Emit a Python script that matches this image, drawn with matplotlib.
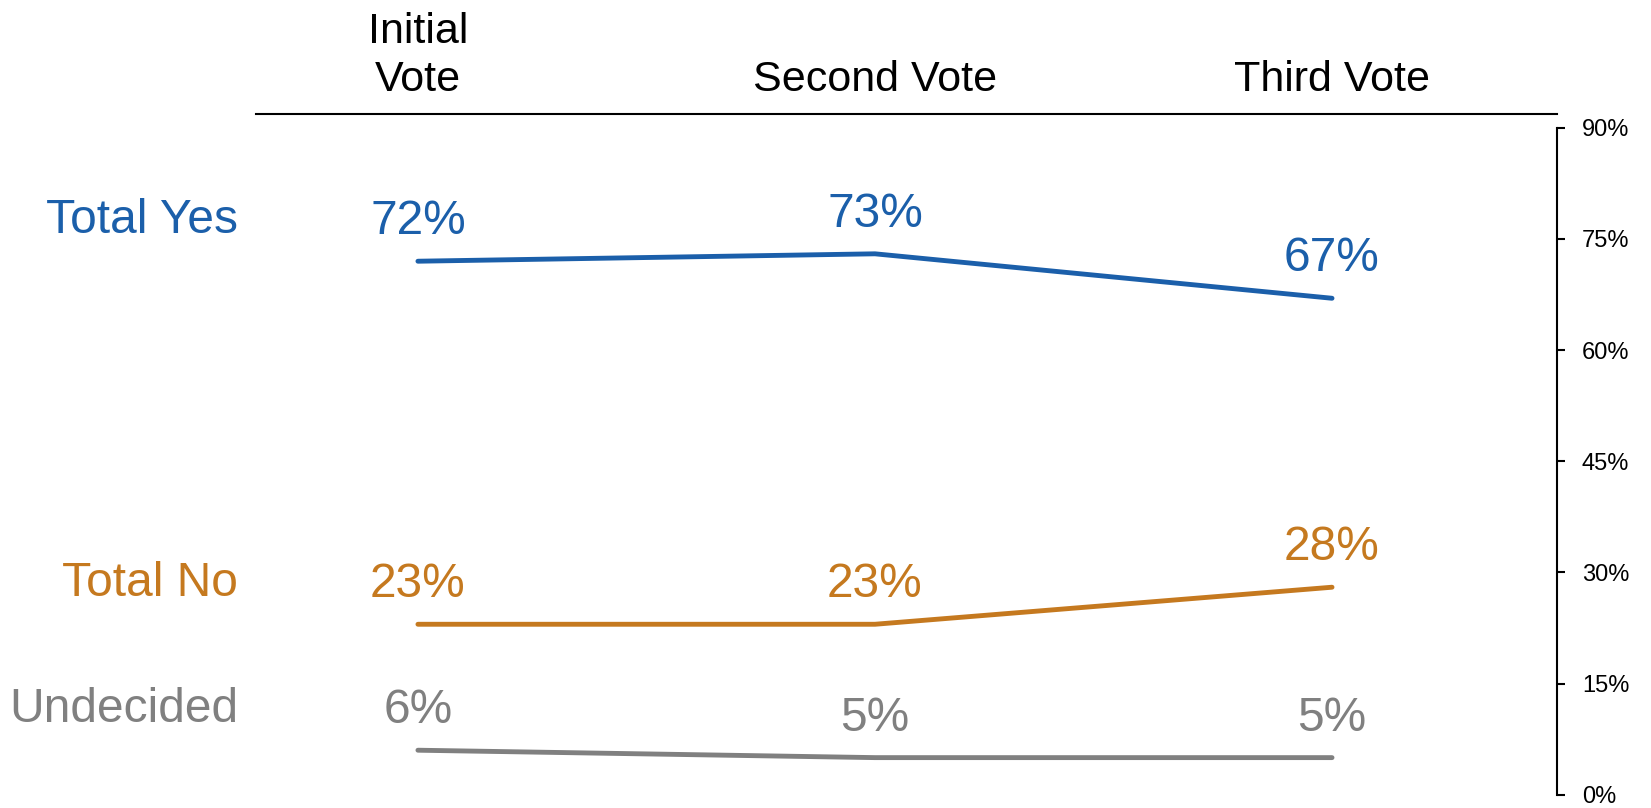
#!/usr/bin/env python
#######################################################################

import matplotlib
matplotlib.use('Agg')
import matplotlib.pyplot as plt
import matplotlib.transforms as mtrans
from matplotlib.ticker import FuncFormatter

#######################################################################
# Data

votes = ['Initial\nVote', 'Second Vote', 'Third Vote']
series_names = ['Total Yes', 'Total No', 'Undecided']
yes = [72, 73, 67]
no = [23, 23, 28]
undecided = [6, 5, 5]
yticks = [0, 15, 30, 45, 60, 75, 90]

colors = ['#1b5faa', '#c5791f', '#808080']

#######################################################################
# Plotting

plt.rcParams['font.family'] = ['Liberation Sans', 'DejaVu Sans']

fig = plt.figure(figsize=(16.51, 8.08), dpi=100)
ax = fig.add_axes([0.155, 0.0165, 0.788, 0.8425])

xs = list(range(len(votes)))
for name, vals, col in zip(series_names, [yes, no, undecided], colors):
    ax.plot(xs, vals, color=col, lw=3.5, solid_capstyle='round')
    for x, v in zip(xs, vals):
        ax.annotate(f'{v}%', xy=(x, v), xytext=(0, 27),
                    textcoords='offset pixels', ha='center', va='baseline',
                    fontsize=34.5, color=col)
    # series name to the left, on the same baseline as the first value
    ax.annotate(name, xy=(xs[0], vals[0]), xytext=(-180, 28),
                textcoords='offset pixels', ha='right', va='baseline',
                fontsize=34.5, color=col, annotation_clip=False)

# column headers above the top rule
trans = mtrans.blended_transform_factory(ax.transData, ax.transAxes)
for x, lab in zip(xs, votes):
    ax.annotate(lab, xy=(x, 1), xycoords=trans, xytext=(0, 14),
                textcoords='offset pixels', ha='center', va='bottom',
                fontsize=31, linespacing=1.26, annotation_clip=False)

ax.set_xlim(-0.3545, 2.492)
ax.set_ylim(0, 91.88)

# axis on the right, top rule only
ax.spines['left'].set_visible(False)
ax.spines['bottom'].set_visible(False)
ax.spines['top'].set_linewidth(1.5)
ax.spines['right'].set_linewidth(1.5)
ax.spines['right'].set_bounds(0, 90)
ax.set_xticks([])
ax.yaxis.tick_right()
ax.set_yticks(yticks)
ax.yaxis.set_major_formatter(FuncFormatter(lambda v, p: f'{v:.0f}%'))
ax.tick_params(axis='y', direction='out', length=6, width=1.5,
               pad=12, labelsize=17)

fig.savefig('out.png', dpi=100)
